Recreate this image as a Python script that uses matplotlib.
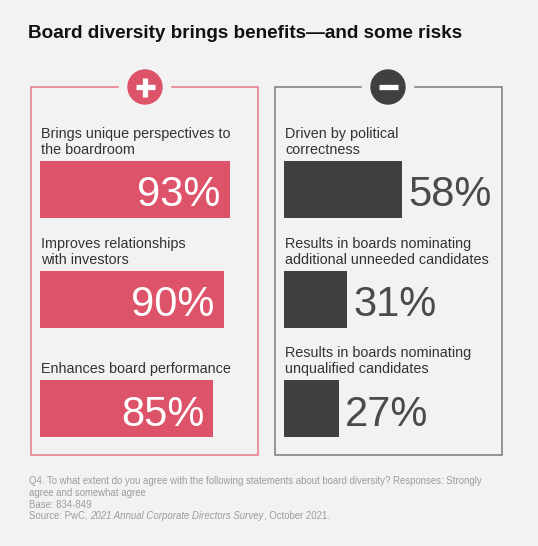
import matplotlib
matplotlib.use("Agg")
import matplotlib.pyplot as plt
from matplotlib.patches import Circle

# data
benefit_labels = ["Brings unique perspectives to\nthe boardroom",
                  "Improves relationships\nwith investors",
                  "Enhances board performance"]
benefit_values = [93, 90, 85]
risk_labels = ["Driven by political\ncorrectness",
               "Results in boards nominating\nadditional unneeded candidates",
               "Results in boards nominating\nunqualified candidates"]
risk_values = [58, 31, 27]

title = "Board diversity brings benefits\u2014and some risks"
note_lines = ["Q4. To what extent do you agree with the following statements about board diversity? Responses: Strongly",
              "agree and somewhat agree",
              "Base: 834-849"]

BG = "#f2f2f2"
PINK = "#dd5369"
DARK = "#404040"
W, H = 538, 546

plt.rcParams['font.family'] = ['Liberation Sans', 'DejaVu Sans']

fig = plt.figure(figsize=(W / 100, H / 100), dpi=100, facecolor=BG)
ax = fig.add_axes([0, 0, 1, 1])
ax.set_xlim(0, W)
ax.set_ylim(H, 0)
ax.axis('off')

ax.text(28, 34, title, fontsize=13.6, fontweight='bold', color='#111111',
        va='center', ha='left')

bar_centers = [189, 299, 408.5]
bar_h = 57


def panel(x0, x1, color, circ_color, sign):
    cx = 145 if sign == '+' else 388
    top, bottom = 87, 455
    ax.plot([cx - 27, x0, x0, x1, x1, cx + 27], [top, top, bottom, bottom, top, top],
            color=color, lw=1.1, solid_joinstyle='miter')
    ax.add_patch(Circle((cx, top), 17, color=circ_color, zorder=3))
    ax.plot([cx - 9.5, cx + 9.5], [top, top], color='white', lw=3.8, zorder=4,
            solid_capstyle='butt')
    if sign == '+':
        ax.plot([cx, cx], [top - 9.5, top + 9.5], color='white', lw=3.8, zorder=4,
                solid_capstyle='butt')


panel(31, 258, '#e8788a', PINK, '+')
panel(274.5, 501.5, '#7a7a7a', DARK, '-')


def bars(left_px, labels, values, color, inside):
    bax = fig.add_axes([left_px / W, 0, 204 / W, 1])
    bax.set_xlim(0, 100)
    bax.set_ylim(H, 0)
    bax.axis('off')
    bax.barh(bar_centers, values, height=bar_h, left=0, color=color)
    for yc, v, lab in zip(bar_centers, values, labels):
        if inside:
            bax.annotate(f"{v}%", xy=(v, yc), xytext=(-9, -17.5),
                         textcoords='offset pixels', ha='right', va='baseline',
                         fontsize=30, color='white')
        else:
            bax.annotate(f"{v}%", xy=(v, yc), xytext=(6, -17.5),
                         textcoords='offset pixels', ha='left', va='baseline',
                         fontsize=30, color='#4a4a4a')
        ax.text(left_px + 1, yc - bar_h / 2 - 7, lab, fontsize=10.4, color='#333333',
                ha='left', va='baseline', linespacing=1.17)


bars(40, benefit_labels, benefit_values, PINK, True)
bars(284, risk_labels, risk_values, DARK, False)

# footnote
fy = [481, 493, 504.5]
for y, line in zip(fy, note_lines):
    ax.text(29, y, line, fontsize=6.95, color='#9c9c9c', va='center', ha='left')

renderer = fig.canvas.get_renderer()
x = 29
for part, style in [("Source: PwC, ", 'normal'),
                    ("2021 Annual Corporate Directors Survey", 'italic'),
                    (", October 2021.", 'normal')]:
    t = ax.text(x, 516, part, fontsize=6.95, color='#9c9c9c', va='center', ha='left',
                style=style)
    bb = t.get_window_extent(renderer=renderer)
    x += bb.width

fig.savefig("out.png", dpi=100, facecolor=BG)
